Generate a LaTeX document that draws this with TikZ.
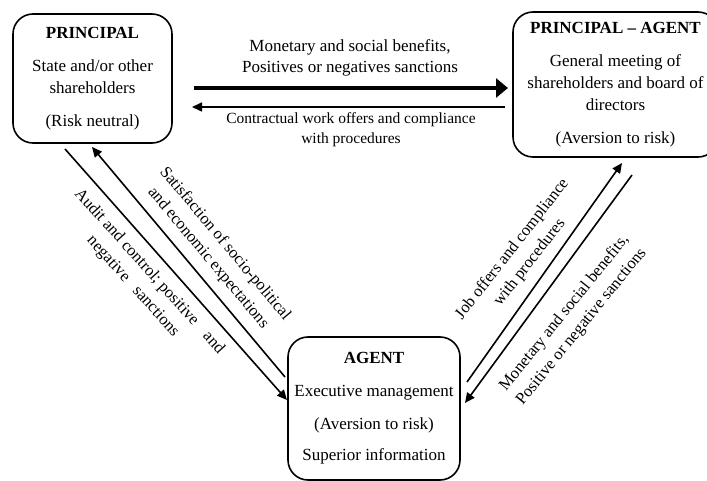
\documentclass[tikz,border=0pt]{standalone}
\usepackage{fontspec}
\setmainfont{Liberation Serif}
\usetikzlibrary{arrows.meta}

\begin{document}
\begin{tikzpicture}[x=1pt,y=-1pt,
  box/.style={draw,line width=1.6pt,rounded corners=20pt,align=center,inner sep=0pt,font=\fontsize{17}{22}\selectfont},
  flow/.style={line width=1.6pt,-{Triangle[length=10pt,width=9pt]}},
  bigflow/.style={line width=4pt,-{Triangle[length=12pt,width=19pt]}},
  lbl/.style={align=center,inner sep=0pt,font=\fontsize{16.5}{22}\selectfont}]

\useasboundingbox (0,0) rectangle (707,481);

% Draw the boxes
\node[box,minimum width=159pt,minimum height=129pt] (prin) at (92.5,78.5)
  {\textbf{PRINCIPAL}\\[11pt] State and/or other\\ shareholders\\[11pt] (Risk neutral)};
\node[box,minimum width=205pt,minimum height=145pt] (pa) at (615.5,84.5)
  {\textbf{PRINCIPAL -- AGENT}\\[11pt] General meeting of\\ shareholders and board of\\ directors\\[11pt] (Aversion to risk)};
\node[box,minimum width=172pt,minimum height=143pt] (agent) at (374,408.5)
  {\textbf{AGENT}\\[11pt] Executive management\\[11pt] (Aversion to risk)\\[9pt] Superior information};

% Ends of the arrows
\coordinate (topa) at (194,88);
\coordinate (topb) at (508,88);
\coordinate (bota) at (505,107);
\coordinate (botb) at (192,107);
\coordinate (auda) at (65,149);
\coordinate (audb) at (287,400);
\coordinate (sata) at (285,377);
\coordinate (satb) at (92,147);
\coordinate (joba) at (467,382);
\coordinate (jobb) at (622,163);
\coordinate (mona) at (632,175);
\coordinate (monb) at (465,403);

% Draw the arrows
\draw[bigflow] (topa) -- (topb);
\draw[flow] (bota) -- (botb);
\draw[flow] (auda) -- (audb);
\draw[flow] (sata) -- (satb);
\draw[flow] (joba) -- (jobb);
\draw[flow] (mona) -- (monb);

% Draw the labels
\node[lbl,font=\fontsize{17}{21}\selectfont] (lbtop) at (350,57.5) {Monetary and social benefits,\\ Positives or negatives sanctions};
\node[lbl,font=\fontsize{15.5}{20}\selectfont] (lbbot) at (351,130) {Contractual work offers and compliance\\ with procedures};
\node[lbl,rotate=-50] (lbsat) at (216.5,251) {Satisfaction of socio-political\\ and economic expectations};
\node[lbl,rotate=-48] (lbaud) at (141,279) {Audit and control; positive\hspace{10pt} and\\ negative\hspace{8pt} sanctions};
\node[lbl,rotate=52] (lbjob) at (521,256) {Job offers and compliance\\ with procedures};
\node[lbl,rotate=51] (lbmon) at (573,320) {Monetary and social benefits,\\ Positive or negative sanctions};

\end{tikzpicture}
\end{document}
